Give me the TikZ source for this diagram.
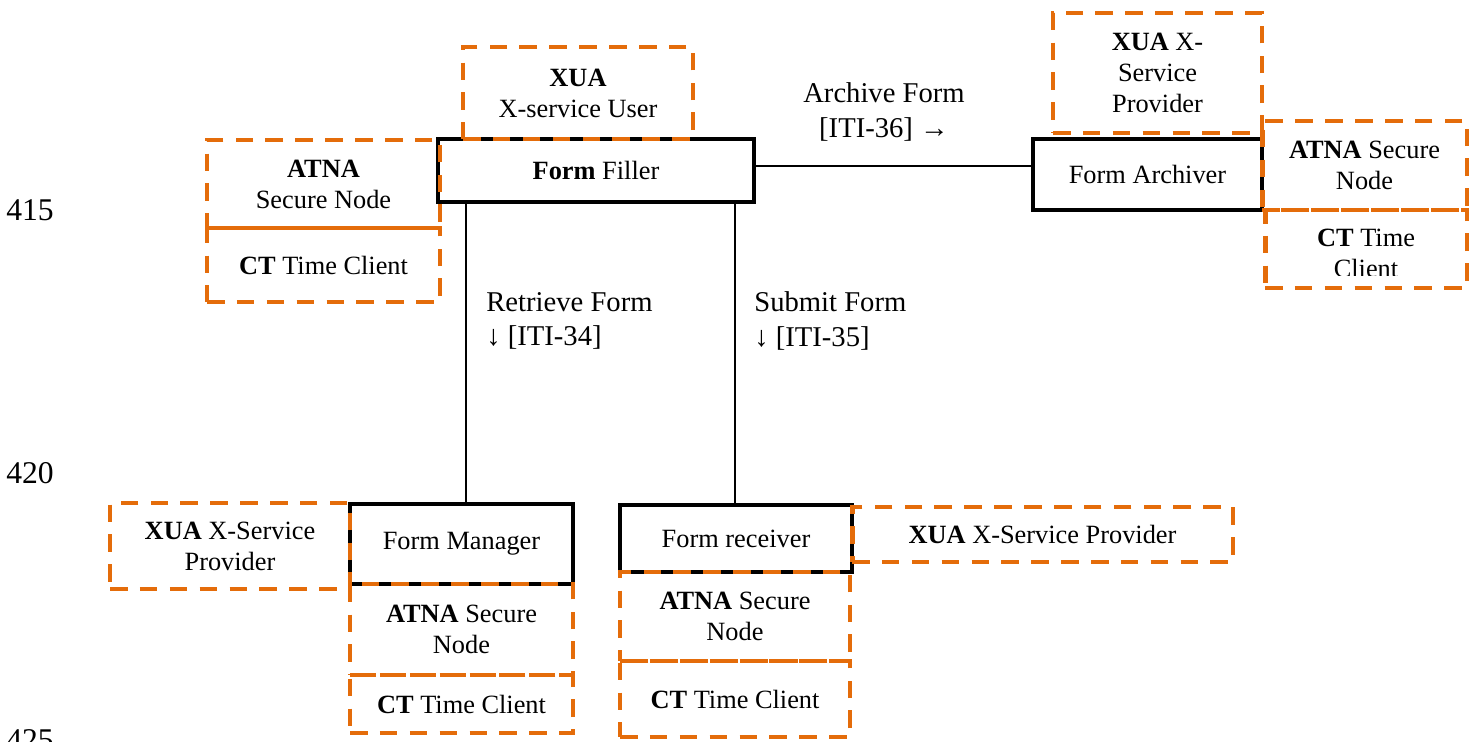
\documentclass[tikz,border=0pt]{standalone}
\usepackage{fontspec}
\setmainfont{Liberation Serif}
\definecolor{ihorange}{HTML}{E46C0A}
\tikzset{
  actor/.style={draw=black, line width=2.3pt, rectangle, inner sep=0pt, outer sep=0pt, align=center, font=\fontsize{15}{17.6}\selectfont},
  opt/.style={draw=ihorange, line width=2.8pt, dash pattern=on 10pt off 7pt, rectangle, inner sep=0pt, outer sep=0pt, align=center, font=\fontsize{15}{17.6}\selectfont},
  optbox/.style={draw=ihorange, line width=2.8pt, dash pattern=on 10pt off 7pt, rectangle, inner sep=0pt, outer sep=0pt},
  boxtext/.style={align=center, inner sep=0pt, font=\fontsize{15}{17.6}\selectfont},
  conn/.style={draw=black, line width=1pt},
  lbl/.style={inner sep=0pt, font=\fontsize{16.3}{19.8}\selectfont},
  lineno/.style={inner sep=0pt, font=\fontsize{18}{20}\selectfont}
}
\begin{document}
\begin{tikzpicture}[x=0.02cm, y=-0.02cm]
\useasboundingbox (0,0) rectangle (1469,741);
\clip (0,0) rectangle (1469,741);
\fill[white] (0,0) rectangle (1469,741);

% line numbers
\node[lineno] (n415) at (30,210) {415};
\node[lineno] (n420) at (30,473) {420};
\node[lineno] (n425) at (30,740) {425};

% actors
\node[actor, minimum width=6.32cm, minimum height=1.26cm] (filler) at (596,170.5) {\textbf{Form} Filler};
\node[actor, minimum width=4.58cm, minimum height=1.42cm] (archiver) at (1147.5,174.5) {Form Archiver};
\node[actor, minimum width=4.46cm, minimum height=1.6cm] (manager) at (461.5,544) {Form Manager};
\node[actor, minimum width=4.64cm, minimum height=1.34cm] (receiver) at (736,538.5) {Form receiver};

% connectors
\draw[conn] (filler.east |- 0,166) -- (archiver.west |- 0,166);
\draw[conn] (filler.south -| 466,0) -- (manager.north -| 466,0);
\draw[conn] (filler.south -| 735,0) -- (receiver.north -| 735,0);

% labels
\node[lbl, align=center] (lArch) at (884,112) {Archive Form\\\relax [ITI-36] →};
\node[lbl, align=left, anchor=west] (lRet) at (486,321) {Retrieve Form\\↓ [ITI-34]};
\node[lbl, align=left, anchor=west] (lSub) at (754,321) {Submit Form\\↓ [ITI-35]};

% grouped actors (dashed)
\node[opt, minimum width=4.6cm, minimum height=1.84cm] (xuaUser) at (578,93) {\textbf{XUA}\\X-service User};
\node[opt, minimum width=4.66cm, minimum height=1.76cm] (atnaL) at (323.5,184) {\textbf{ATNA}\\Secure Node};
\node[opt, minimum width=4.66cm, minimum height=1.48cm] (ctL) at (323.5,265) {\textbf{CT} Time Client};

\node[opt, minimum width=4.18cm, minimum height=2.4cm] (xuaR) at (1157.5,73) {\textbf{XUA} X-\\Service\\Provider};
\node[opt, minimum width=4.1cm, minimum height=1.78cm] (atnaR) at (1364.5,165.5) {\textbf{ATNA} Secure\\Node};
\node[optbox, minimum width=4.04cm, minimum height=1.56cm] (ctR) at (1366,249) {};
\begin{scope}
  \clip (1265,210) rectangle (1467,275);
  \node[boxtext] (ctRtext) at ([yshift=-0.09cm]ctR.center) {\textbf{CT} Time\\Client};
\end{scope}

\node[opt, minimum width=4.8cm, minimum height=1.72cm] (xuaBL) at (230,546) {\textbf{XUA} X-Service\\Provider};
\node[opt, minimum width=4.46cm, minimum height=1.82cm] (atnaM) at (461.5,629.5) {\textbf{ATNA} Secure\\Node};
\node[opt, minimum width=4.46cm, minimum height=1.16cm] (ctM) at (461.5,704) {\textbf{CT} Time Client};

\node[opt, minimum width=7.62cm, minimum height=1.1cm] (xuaBR) at (1042.5,534.5) {\textbf{XUA} X-Service Provider};
\node[opt, minimum width=4.6cm, minimum height=1.78cm] (atnaRc) at (735,616.5) {\textbf{ATNA} Secure\\Node};
\node[opt, minimum width=4.6cm, minimum height=1.52cm] (ctRc) at (735,699) {\textbf{CT} Time Client};
\end{tikzpicture}
\end{document}
